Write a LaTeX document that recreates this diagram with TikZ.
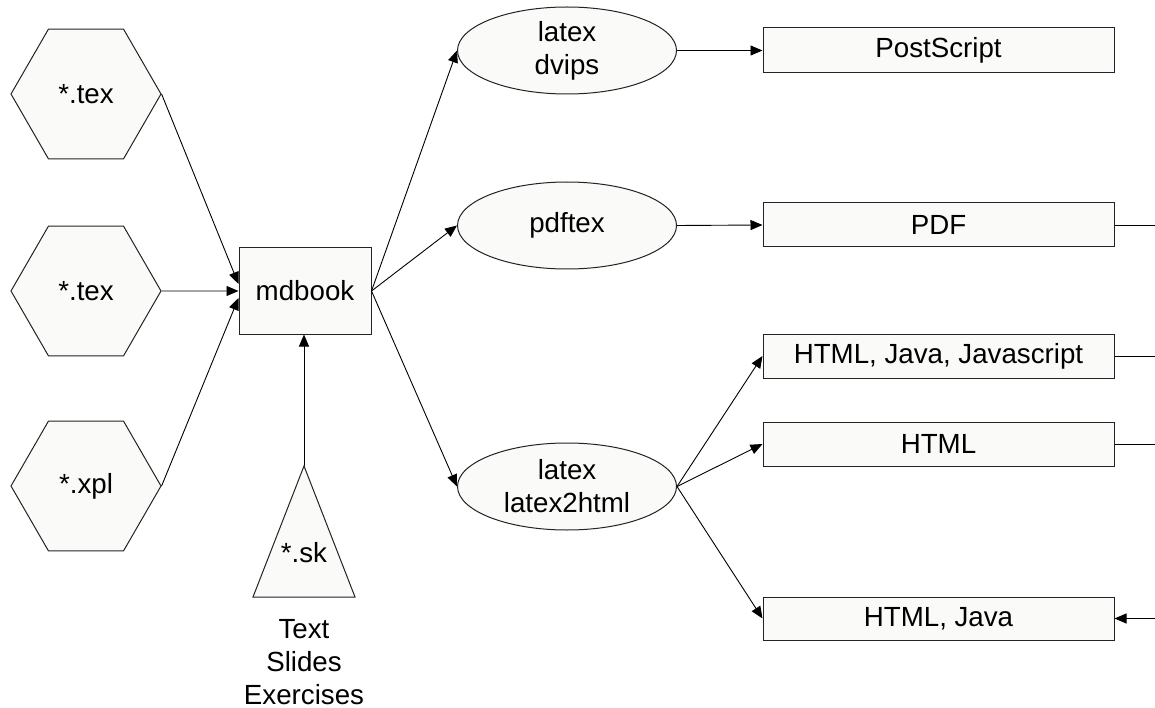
\documentclass[tikz,border=0pt]{standalone}
\usepackage{fontspec}
\setmainfont{Liberation Sans}
\usetikzlibrary{shapes.geometric,arrows.meta}
\definecolor{shapefill}{RGB}{250,250,248}
\definecolor{edgecol}{RGB}{35,35,35}
\begin{document}
\begin{tikzpicture}[x=1pt,y=-1pt,
  every node/.style={font=\fontsize{27.7}{33}\selectfont},
  hexnode/.style={regular polygon, regular polygon sides=6, draw=edgecol, fill=shapefill, minimum size=150pt, inner sep=0pt, line width=1pt},
  boxnode/.style={rectangle, draw=edgecol, fill=shapefill, minimum width=351pt, minimum height=44pt, inner sep=0pt, line width=1pt},
  ellnode/.style={ellipse, draw=edgecol, fill=shapefill, minimum width=219pt, minimum height=87pt, inner sep=0pt, align=center, line width=1pt},
  mdnode/.style={rectangle, draw=edgecol, fill=shapefill, minimum width=132pt, minimum height=86pt, inner sep=0pt, line width=1pt},
  conn/.style={-{Triangle[length=12pt,width=10pt]}, line width=0.9pt, black},
  plainline/.style={line width=0.9pt, black}
]
\useasboundingbox (0,0) rectangle (1155,708);
\fill[white] (0,0) rectangle (1155,708);

% inputs
\node[hexnode] (hexA) at (86,94) {*.tex};
\node[hexnode] (hexB) at (86,291) {*.tex};
\node[hexnode] (hexC) at (86,486) {*.xpl};

\node[mdnode] (mdbook) at (305,291) {mdbook};

% triangle
\draw[draw=edgecol, fill=shapefill, line width=1pt] (304,466) -- (253,597) -- (355,597) -- cycle;
\coordinate (skapex) at (304,466);
\node (sk) at (304,553) {*.sk};
\node[align=center] (sktext) at (304,662) {Text\\Slides\\Exercises};

% processors
\node[ellnode] (dvips) at (567,50.5) {latex\\dvips};
\node[ellnode] (pdftex) at (567,225.5) {pdftex};
\node[ellnode] (l2h) at (567,486.5) {latex\\latex2html};

% outputs
\node[boxnode, minimum height=45pt] (ps) at (938.5,50.5) {PostScript};
\node[boxnode] (pdf) at (938.5,225) {PDF};
\node[boxnode] (hjj) at (938.5,356) {HTML, Java, Javascript};
\node[boxnode] (html) at (938.5,444) {HTML};
\node[boxnode, minimum height=43pt] (hj) at (938.5,618.5) {HTML, Java};

% right edge coordinates
\coordinate (pdfR) at (1155,225);
\coordinate (hjjR) at (1155,356);
\coordinate (htmlR) at (1155,444);
\coordinate (hjR) at (1155,618.5);

% connectors
\draw[conn] (hexA.east) -- ([yshift=7pt]mdbook.west);
\draw[conn] (hexB.east) -- (mdbook.west);
\draw[conn] (hexC.east) -- ([yshift=-7pt]mdbook.west);
\draw[conn] (skapex) -- (skapex |- mdbook.south);

\draw[conn] (mdbook.east) -- (dvips.west);
\draw[conn] (mdbook.east) -- (pdftex.west);
\draw[conn] (mdbook.east) -- (l2h.west);

\draw[conn] (dvips.east) -- (ps.west);
\draw[conn] (pdftex.east) -- (pdf.west);
\draw[conn] (l2h.east) -- (hjj.west);
\draw[conn] (l2h.east) -- (html.west);
\draw[conn] (l2h.east) -- (hj.west);

\draw[plainline] (pdf.east) -- (pdfR);
\draw[plainline] (hjj.east) -- (hjjR);
\draw[plainline] (html.east) -- (htmlR);
\draw[conn] (hjR) -- (hj.east);
\end{tikzpicture}
\end{document}
